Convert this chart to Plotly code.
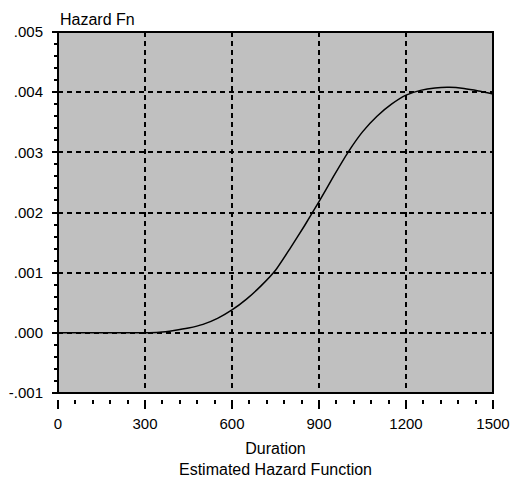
import plotly.graph_objects as go

# Data
duration = [0, 300, 350, 400, 450, 500, 550, 600, 650, 700, 750, 800, 850, 900,
            950, 1000, 1050, 1100, 1150, 1200, 1250, 1300, 1350, 1400, 1450, 1500]
hazard = [0.0, 0.0, 0.00001, 0.00004, 0.00008, 0.00014, 0.00024, 0.00038, 0.00056,
          0.00078, 0.00104, 0.00140, 0.00178, 0.00218, 0.00260, 0.00300, 0.00334,
          0.00360, 0.00380, 0.00395, 0.00403, 0.00407, 0.00408, 0.00406, 0.00402, 0.00397]

x_tickvals = [0, 300, 600, 900, 1200, 1500]
x_ticktext = ["0", "300", "600", "900", "1200", "1500"]
y_tickvals = [-0.001, 0.0, 0.001, 0.002, 0.003, 0.004, 0.005]
y_ticktext = ["-.001", ".000", ".001", ".002", ".003", ".004", ".005"]

y_title = "Hazard Fn"
x_title = "Duration"
chart_title = "Estimated Hazard Function"

FONT = "Liberation Sans"

fig = go.Figure()
fig.add_trace(go.Scatter(x=duration, y=hazard, mode="lines",
                         line=dict(color="black", width=1.5, shape="spline", smoothing=0.5),
                         hoverinfo="skip", showlegend=False))

fig.update_layout(
    width=515, height=485,
    margin=dict(l=58, r=22, t=32, b=86),
    paper_bgcolor="white",
    plot_bgcolor="#C0C0C0",
    font=dict(family=FONT, size=15, color="black"),
    xaxis=dict(
        range=[0, 1500], anchor="free", position=0, automargin=False,
        tickvals=x_tickvals, ticktext=x_ticktext,
        ticks="outside", ticklen=9, tickwidth=2, tickcolor="black",
        ticklabelstandoff=2, tickfont=dict(size=15),
        minor=dict(dtick=60, tick0=0, ticks="outside", ticklen=4, tickwidth=2,
                   tickcolor="black", showgrid=False),
        showgrid=True, gridcolor="black", gridwidth=1.5, griddash="5px,4px",
        zeroline=False, showline=False,
    ),
    yaxis=dict(
        range=[-0.001, 0.005], domain=[0.01635, 1], automargin=False,
        tickvals=y_tickvals, ticktext=y_ticktext,
        ticks="outside", ticklen=5, tickwidth=2, tickcolor="black",
        ticklabelstandoff=6, tickfont=dict(size=15),
        minor=dict(dtick=0.0002, tick0=0, ticks="outside", ticklen=3, tickwidth=2,
                   tickcolor="black", showgrid=False),
        showgrid=True, gridcolor="black", gridwidth=1.5, griddash="5px,4px",
        zeroline=False, showline=False,
    ),
    shapes=[dict(type="rect", xref="x domain", yref="y domain", x0=0, x1=1, y0=0, y1=1,
                 line=dict(color="black", width=2), layer="above")],
    annotations=[
        dict(text=y_title, xref="paper", yref="paper", x=0, y=1.035,
             xanchor="left", yanchor="middle", showarrow=False,
             font=dict(family=FONT, size=16, color="black")),
        dict(text=x_title + "<br>" + chart_title, xref="paper", yref="paper",
             x=0.5, y=-0.1635, xanchor="center", yanchor="middle", showarrow=False,
             font=dict(family=FONT, size=16, color="black")),
    ],
)

fig.write_html("out.html")
